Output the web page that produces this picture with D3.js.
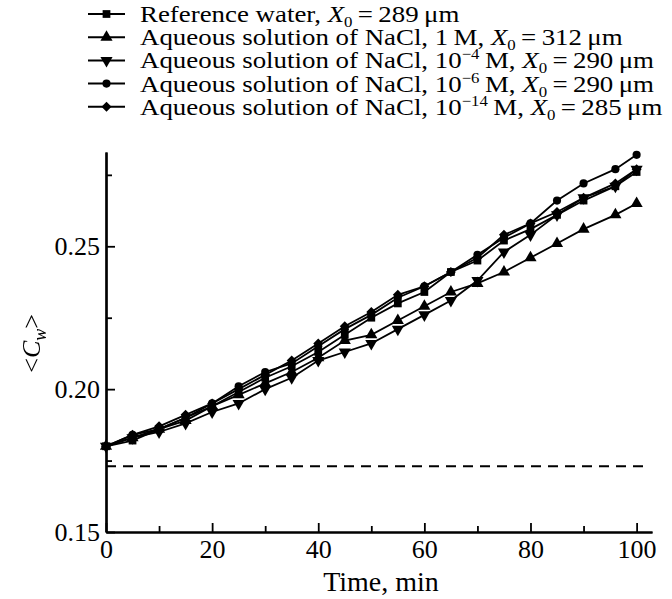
<!DOCTYPE html>
<html>
<head>
<meta charset="utf-8">
<script src="https://cdn.jsdelivr.net/npm/d3@7"></script>
<style>
  body { margin: 0; background: #fff; }
  svg text { font-family: "Liberation Serif", "DejaVu Serif", serif; fill: #000; }
</style>
</head>
<body>
<div id="chart"></div>
<script>
const MARGIN = { top: 152, right: 20, bottom: 67, left: 106 };
const WIDTH = 672 - MARGIN.left - MARGIN.right;
const HEIGHT = 599 - MARGIN.top - MARGIN.bottom;

// time, min
const timeValues = [0, 5, 10, 15, 20, 25, 30, 35, 40, 45, 50, 55, 60, 65, 70, 75, 80, 85, 90, 96, 100];

const refWater   = [0.180, 0.182, 0.186, 0.190, 0.194, 0.199, 0.204, 0.208, 0.213, 0.219, 0.225, 0.230, 0.234, 0.241, 0.245, 0.252, 0.256, 0.261, 0.266, 0.271, 0.276];
const nacl1M     = [0.180, 0.183, 0.186, 0.189, 0.194, 0.198, 0.202, 0.206, 0.211, 0.217, 0.219, 0.224, 0.229, 0.234, 0.237, 0.241, 0.246, 0.251, 0.256, 0.261, 0.265];
const nacl1e4    = [0.180, 0.183, 0.185, 0.188, 0.192, 0.195, 0.200, 0.204, 0.210, 0.213, 0.216, 0.221, 0.226, 0.231, 0.238, 0.248, 0.254, 0.261, 0.267, 0.271, 0.277];
const nacl1e6    = [0.180, 0.184, 0.186, 0.190, 0.195, 0.201, 0.206, 0.209, 0.215, 0.221, 0.226, 0.232, 0.236, 0.241, 0.247, 0.253, 0.258, 0.266, 0.272, 0.277, 0.282];
const nacl1e14   = [0.180, 0.184, 0.187, 0.191, 0.195, 0.200, 0.205, 0.210, 0.216, 0.222, 0.227, 0.233, 0.236, 0.241, 0.246, 0.254, 0.258, 0.262, 0.267, 0.272, 0.277];

const dashedLevel = 0.173;

const xMajorTicks = [0, 20, 40, 60, 80, 100];
const xMinorTicks = [10, 30, 50, 70, 90];
const yMajorTicks = [0.15, 0.20, 0.25];
const yMinorTicks = [0.175, 0.225, 0.275];

// legend: text before superscript, superscript, text after, X0 value
const series = [
  { values: refWater, symbol: 'square', pre: 'Reference water,', sup: null, mid: null, x0: '289' },
  { values: nacl1M, symbol: 'up', pre: 'Aqueous solution of NaCl, 1\u2009M,', sup: null, mid: null, x0: '312' },
  { values: nacl1e4, symbol: 'down', pre: 'Aqueous solution of NaCl, 10', sup: '\u22124', mid: '\u2009M,', x0: '290' },
  { values: nacl1e6, symbol: 'circle', pre: 'Aqueous solution of NaCl, 10', sup: '\u22126', mid: '\u2009M,', x0: '290' },
  { values: nacl1e14, symbol: 'diamond', pre: 'Aqueous solution of NaCl, 10', sup: '\u221214', mid: '\u2009M,', x0: '285' }
];

const svg = d3.select('#chart')
  .append('svg')
    .attr('width', 672)
    .attr('height', 599);

// identity filter: keeps the rotated title in plain grey antialiasing
svg.append('defs').append('filter')
    .attr('id', 'flat')
  .append('feOffset')
    .attr('dx', 0).attr('dy', 0);

const chart = svg.append('g')
  .attr('transform', `translate(${MARGIN.left}, ${MARGIN.top})`);

const x = d3.scaleLinear().domain([0, 102.9]).range([0, WIDTH]);
const y = d3.scaleLinear().domain([0.15, 0.283]).range([HEIGHT, 0]);

function markerPath (kind) {
  if (kind === 'square') return d3.symbol(d3.symbolSquare, 60)();
  if (kind === 'circle') return d3.symbol(d3.symbolCircle, 52)();
  if (kind === 'diamond') return d3.symbol(d3.symbolSquare, 50)();
  return d3.symbol(d3.symbolTriangle, 64)();
}
function markerRotate (kind) {
  if (kind === 'down') return 180;
  if (kind === 'diamond') return 45;
  return 0;
}

// dashed reference level
chart.append('line')
  .attr('x1', x(0)).attr('x2', x(101.5))
  .attr('y1', y(dashedLevel)).attr('y2', y(dashedLevel))
  .attr('stroke', '#000')
  .attr('stroke-width', 2)
  .attr('stroke-dasharray', '10,7');

const line = d3.line()
  .x((d, i) => x(timeValues[i]))
  .y(d => y(d));

series.forEach(s => {
  chart.append('path')
    .datum(s.values)
    .attr('fill', 'none')
    .attr('stroke', '#000')
    .attr('stroke-width', 1.8)
    .attr('d', line);

  chart.append('g')
    .selectAll('path')
    .data(s.values)
    .enter()
    .append('path')
      .attr('d', markerPath(s.symbol))
      .attr('transform', (d, i) => `translate(${x(timeValues[i])}, ${y(d)}) rotate(${markerRotate(s.symbol)})`)
      .attr('fill', '#000');
});

// axes, ticks pointing inward
const xAxis = chart.append('g')
  .attr('transform', `translate(0, ${HEIGHT})`)
  .call(d3.axisBottom(x).tickValues(xMajorTicks).tickSizeInner(-9).tickSizeOuter(0).tickPadding(8).tickFormat(d3.format('d')));
chart.append('g')
  .attr('transform', `translate(0, ${HEIGHT})`)
  .call(d3.axisBottom(x).tickValues(xMinorTicks).tickSizeInner(-6).tickSizeOuter(0).tickFormat(''));

const yAxis = chart.append('g')
  .call(d3.axisLeft(y).tickValues(yMajorTicks).tickSizeInner(-9).tickSizeOuter(0).tickPadding(6).tickFormat(d3.format('.2f')));
chart.append('g')
  .call(d3.axisLeft(y).tickValues(yMinorTicks).tickSizeInner(-6).tickSizeOuter(0).tickFormat(''));

chart.selectAll('.domain').attr('stroke-width', 2.2);
chart.selectAll('.tick line').attr('stroke-width', 1.8);
chart.selectAll('.tick text').attr('fill', '#000').style('font-size', '26px');
xAxis.selectAll('.tick text').attr('dy', '0.71em');

// axis titles
svg.append('text')
  .attr('x', 381)
  .attr('y', 591)
  .attr('text-anchor', 'middle')
  .attr('fill', '#000')
  .style('font-size', '28px')
  .text('Time, min');

const yTitle = svg.append('g')
    .attr('filter', 'url(#flat)')
  .append('text')
    .attr('transform', `translate(40, ${MARGIN.top + y(0.216)}) rotate(-90)`)
    .attr('text-anchor', 'middle')
    .attr('fill', '#000')
    .style('font-size', '26px');
yTitle.append('tspan').text('<');
yTitle.append('tspan').style('font-style', 'italic').text('C');
yTitle.append('tspan').style('font-style', 'italic').style('font-size', '18px').attr('dy', 6).text('w');
yTitle.append('tspan').attr('dy', -6).text('>');

// legend
const legend = svg.append('g').attr('transform', 'translate(88, 14)');
series.forEach((s, i) => {
  const row = legend.append('g').attr('transform', `translate(0, ${i * 23.2})`);
  row.append('line')
    .attr('x1', 0).attr('x2', 37)
    .attr('y1', 0).attr('y2', 0)
    .attr('stroke', '#000')
    .attr('stroke-width', 2);
  row.append('path')
    .attr('d', markerPath(s.symbol))
    .attr('transform', `translate(18.5, 0) rotate(${markerRotate(s.symbol)})`)
    .attr('fill', '#000');

  // text slightly widened, as in the original typesetting
  const t = row.append('text')
    .attr('transform', 'translate(52, 8) scale(1.12, 1)')
    .attr('fill', '#000')
    .style('font-size', '24px');
  t.append('tspan').text(s.pre);
  if (s.sup) {
    t.append('tspan').style('font-size', '15px').attr('dy', -9).text(s.sup);
    t.append('tspan').attr('dy', 9).text(s.mid);
  }
  t.append('tspan').text(' ');
  t.append('tspan').style('font-style', 'italic').text('X');
  t.append('tspan').style('font-size', '15px').attr('dy', 5).text('0');
  t.append('tspan').attr('dy', -5).text('\u2009=\u2009' + s.x0 + '\u2009\u03bcm');
});
</script>
</body>
</html>
